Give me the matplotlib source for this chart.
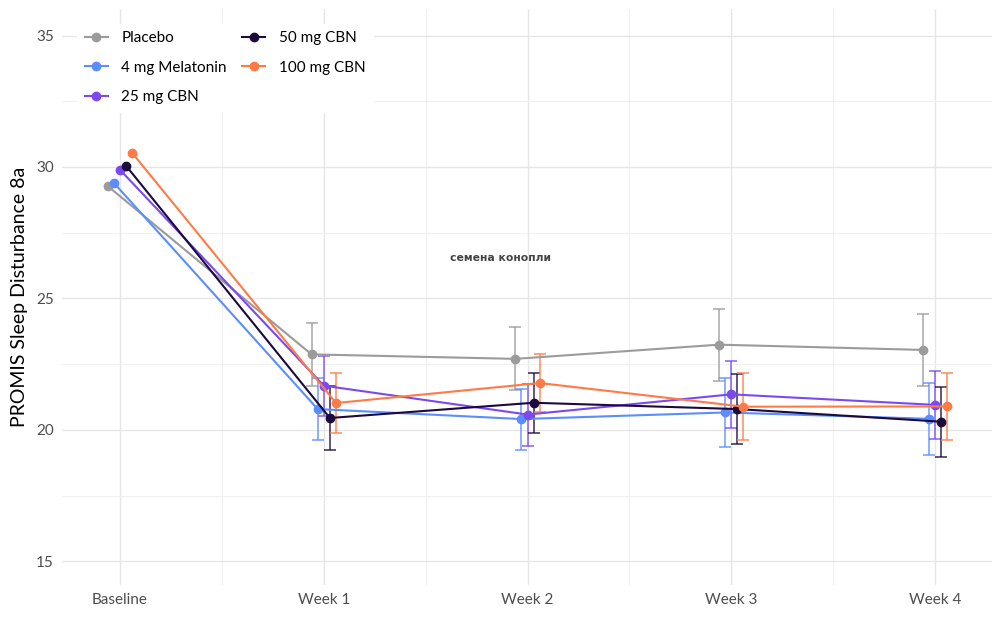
import matplotlib.pyplot as plt
from matplotlib.ticker import MultipleLocator
import numpy as np

plt.rcParams['font.family'] = ['Lato', 'DejaVu Sans']

# data
timepoints = ['Baseline', 'Week 1', 'Week 2', 'Week 3', 'Week 4']
groups = ['Placebo', '4 mg Melatonin', '25 mg CBN', '50 mg CBN', '100 mg CBN']
colors = ['#9b9b9b', '#5b8dff', '#7a4af0', '#1b0a3c', '#ff7a45']

placebo = [29.27, 22.87, 22.70, 23.24, 23.04]
melatonin = [29.39, 20.79, 20.41, 20.66, 20.42]
cbn25 = [29.89, 21.68, 20.58, 21.35, 20.95]
cbn50 = [30.04, 20.45, 21.03, 20.79, 20.31]
cbn100 = [30.53, 21.02, 21.78, 20.88, 20.89]

# half width of the error bars
placebo_err = [0.0, 1.19, 1.20, 1.37, 1.36]
melatonin_err = [0.0, 1.18, 1.16, 1.33, 1.36]
cbn25_err = [0.0, 1.14, 1.18, 1.27, 1.29]
cbn50_err = [0.0, 1.23, 1.15, 1.33, 1.33]
cbn100_err = [0.0, 1.13, 1.10, 1.28, 1.26]

means = [placebo, melatonin, cbn25, cbn50, cbn100]
errs = [placebo_err, melatonin_err, cbn25_err, cbn50_err, cbn100_err]

fig, ax = plt.subplots(figsize=(10, 6.17), dpi=100)
fig.subplots_adjust(left=0.062, right=0.992, top=0.985, bottom=0.052)

x = np.arange(len(timepoints))
offsets = [-0.06, -0.03, 0.0, 0.03, 0.06]

for name, m, e, c, off in zip(groups, means, errs, colors, offsets):
    xs = x + off
    e = np.array(e)
    ax.errorbar(xs[1:], np.array(m)[1:], yerr=e[1:], fmt='none', ecolor=c,
                elinewidth=1.3, capsize=4, capthick=1.3, alpha=0.75, zorder=2)
    ax.plot(xs, m, color=c, lw=1.5, marker='o', ms=6, label=name, zorder=3)

ax.set_xlim(-0.285, 4.28)
ax.set_ylim(14.1, 36.0)
ax.set_xticks(x)
ax.set_xticklabels(timepoints)
ax.set_yticks([15, 20, 25, 30, 35])
ax.xaxis.set_minor_locator(MultipleLocator(0.5))
ax.yaxis.set_minor_locator(MultipleLocator(2.5))
ax.grid(which='major', color='#e6e6e6', lw=1.0)
ax.grid(which='minor', color='#f0f0f0', lw=0.8)
ax.set_axisbelow(True)
for s in ax.spines.values():
    s.set_visible(False)
ax.tick_params(which='both', length=0, labelsize=11, labelcolor='#4d4d4d', pad=6)
ax.set_ylabel('PROMIS Sleep Disturbance 8a', fontsize=14, labelpad=6)

# watermark text
ax.text(1.865, 26.55, 'семена конопли', ha='center', va='center', fontsize=7.8,
        fontweight='bold', color='#444444', family=['DejaVu Sans'])

leg = ax.legend(loc='upper left', ncol=2, frameon=True, fontsize=11,
                bbox_to_anchor=(0.008, 0.988), handlelength=1.5, handletextpad=0.9,
                columnspacing=1.0, labelspacing=1.0, borderpad=0.5)
leg.get_frame().set_facecolor('white')
leg.get_frame().set_edgecolor('white')
leg.get_frame().set_alpha(1)

plt.savefig('out.png')
